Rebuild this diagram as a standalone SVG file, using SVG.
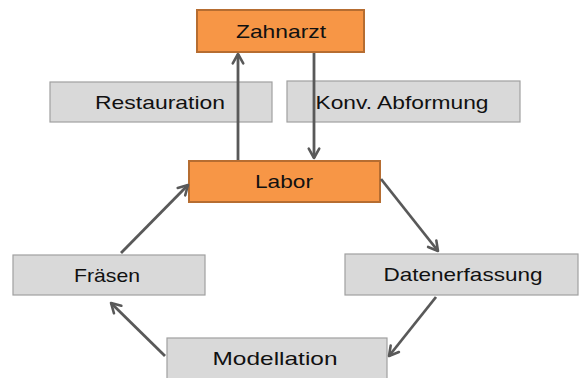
<svg xmlns="http://www.w3.org/2000/svg" width="579" height="378" viewBox="0 0 579 378">
  <style>
    .main rect { fill: #F79646; stroke: #B66D31; stroke-width: 2; }
    .step rect { fill: #D9D9D9; stroke: #A0A0A0; stroke-width: 1.2; }
    text { font-family: "Liberation Sans", Arial, sans-serif; font-size: 19px; fill: #111; text-anchor: middle; }
    .conn line { stroke: #595959; stroke-width: 2.8; fill: none; }
  </style>
  <defs>
    <marker id="arrow" viewBox="0 0 12 12" refX="10" refY="6" markerWidth="5" markerHeight="5" markerUnits="strokeWidth" orient="auto">
      <path d="M2,1.5 L10,6 L2,10.5" fill="none" stroke="#595959" stroke-width="2.2" stroke-linecap="round" stroke-linejoin="round"/>
    </marker>
  </defs>

  <g id="restauration" class="step">
    <rect x="50" y="82" width="222" height="40"/>
    <text x="160" y="109" textLength="130" lengthAdjust="spacingAndGlyphs">Restauration</text>
  </g>
  <g id="konv-abformung" class="step">
    <rect x="287" y="81" width="233" height="41"/>
    <text x="402" y="109" textLength="173" lengthAdjust="spacingAndGlyphs">Konv. Abformung</text>
  </g>
  <g id="fraesen" class="step">
    <rect x="13" y="255" width="192" height="40"/>
    <text x="107" y="282" textLength="66" lengthAdjust="spacingAndGlyphs">Fräsen</text>
  </g>
  <g id="datenerfassung" class="step">
    <rect x="345" y="254" width="233" height="41"/>
    <text x="463" y="281" textLength="159" lengthAdjust="spacingAndGlyphs">Datenerfassung</text>
  </g>
  <g id="modellation" class="step">
    <rect x="167" y="338" width="220" height="50"/>
    <text x="275" y="365" textLength="125" lengthAdjust="spacingAndGlyphs">Modellation</text>
  </g>

  <g id="zahnarzt" class="main">
    <rect x="197" y="10" width="167" height="42"/>
    <text x="281" y="38" textLength="90" lengthAdjust="spacingAndGlyphs">Zahnarzt</text>
  </g>
  <g id="labor" class="main">
    <rect x="189" y="161" width="191" height="41"/>
    <text x="284" y="188" textLength="58" lengthAdjust="spacingAndGlyphs">Labor</text>
  </g>

  <g id="connectors" class="conn">
    <line x1="238" y1="160" x2="238" y2="54" marker-end="url(#arrow)"/>
    <line x1="314" y1="53" x2="314" y2="158" marker-end="url(#arrow)"/>
    <line x1="381" y1="179" x2="438" y2="251" marker-end="url(#arrow)"/>
    <line x1="436" y1="297" x2="389" y2="356" marker-end="url(#arrow)"/>
    <line x1="165" y1="356" x2="111" y2="303" marker-end="url(#arrow)"/>
    <line x1="121" y1="253" x2="188" y2="185" marker-end="url(#arrow)"/>
  </g>
</svg>
